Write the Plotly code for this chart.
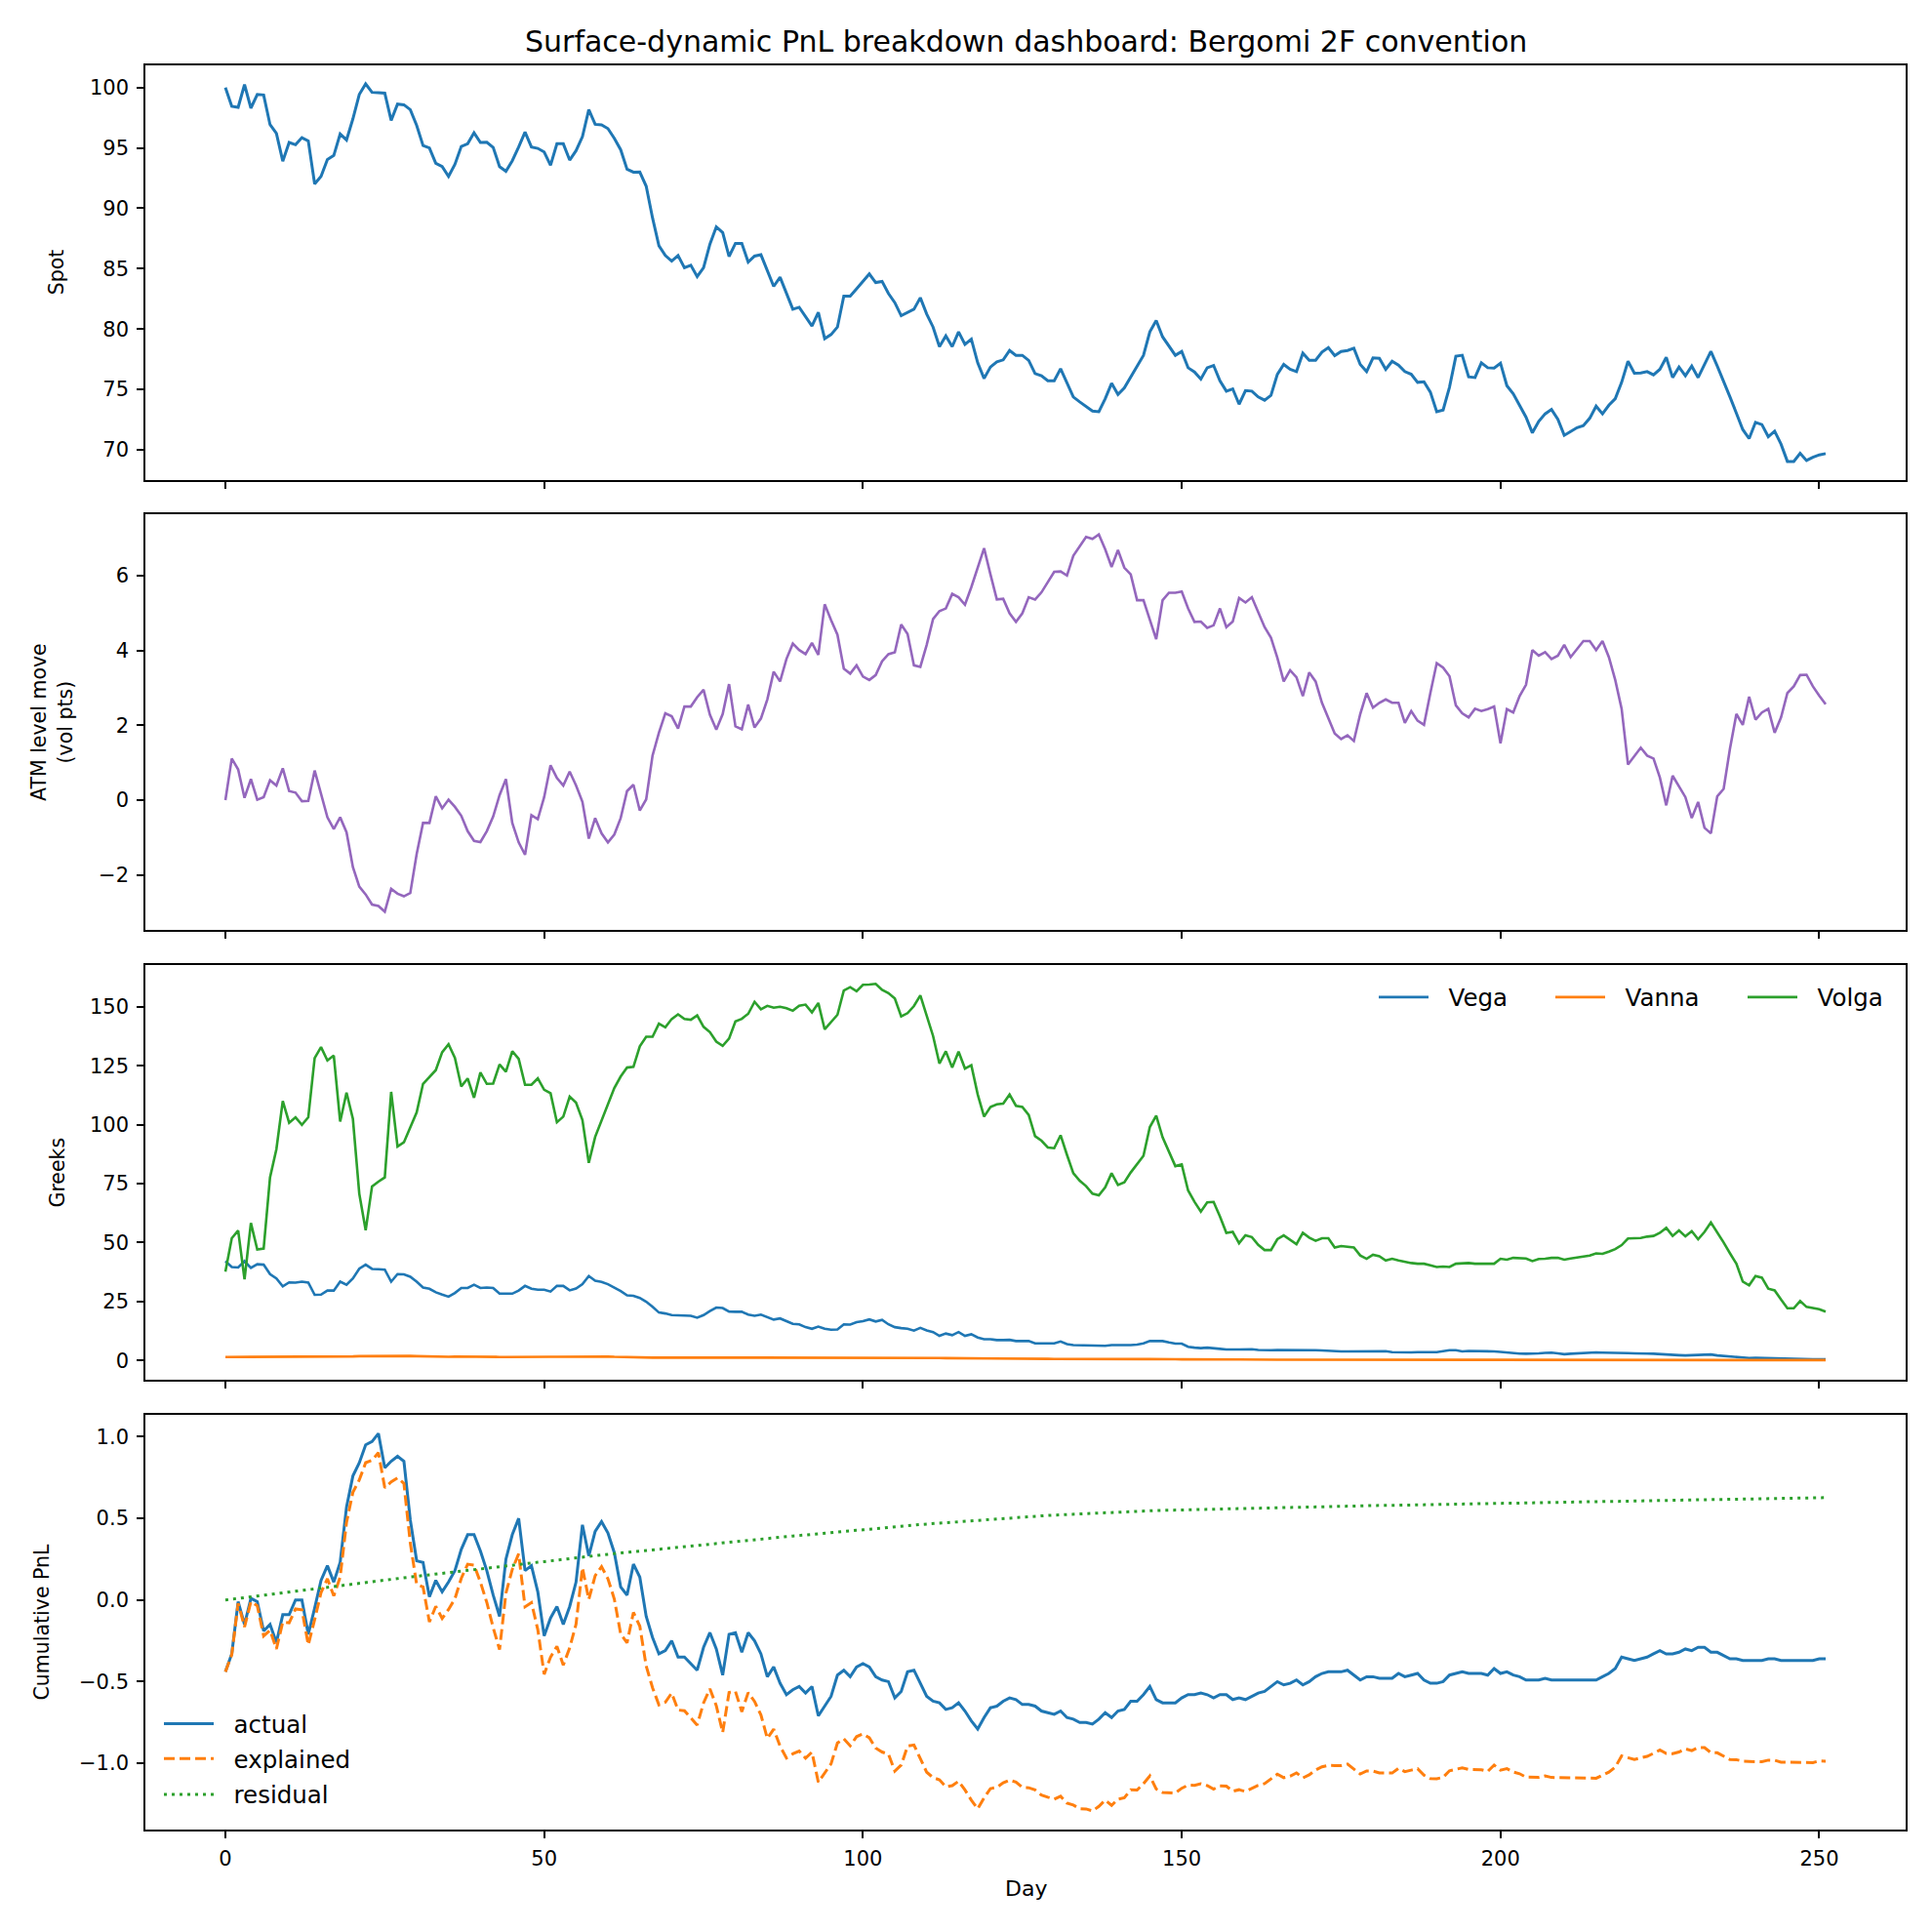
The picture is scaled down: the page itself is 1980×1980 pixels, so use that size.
import plotly.graph_objects as go

days = list(range(252))

spot = [100.0, 98.44, 98.36, 100.24, 98.3, 99.43, 99.38, 96.93, 96.2, 93.9,
        95.45, 95.26, 95.85, 95.58, 92.02, 92.64, 94.04, 94.37, 96.15, 95.66,
        97.41, 99.43, 100.3, 99.6, 99.57, 99.54, 97.28, 98.63, 98.57, 98.17,
        96.87, 95.2, 95.0, 93.72, 93.45, 92.64, 93.64, 95.12, 95.34, 96.25,
        95.45, 95.47, 95.04, 93.45, 93.07, 93.94, 95.07, 96.31, 95.07, 94.96,
        94.66, 93.56, 95.34, 95.34, 93.99, 94.77, 95.93, 98.17, 96.95, 96.9,
        96.6, 95.8, 94.85, 93.23, 92.99, 93.0, 91.83, 89.19, 86.9, 86.09,
        85.63, 86.09, 85.07, 85.28, 84.34, 85.07, 87.03, 88.46, 87.98, 86.01,
        87.09, 87.09, 85.55, 86.04, 86.15, 84.88, 83.53, 84.29, 83.0, 81.64,
        81.8, 80.97, 80.24, 81.37, 79.2, 79.54, 80.16, 82.72, 82.72, 83.32,
        83.94, 84.56, 83.85, 83.94, 82.94, 82.18, 81.1, 81.37, 81.64, 82.59,
        81.24, 80.16, 78.54, 79.43, 78.54, 79.76, 78.73, 79.16, 77.2, 75.9,
        76.85, 77.28, 77.44, 78.22, 77.82, 77.82, 77.39, 76.31, 76.12, 75.71,
        75.71, 76.71, 75.58, 74.37, 73.96, 73.61, 73.21, 73.15, 74.23, 75.5,
        74.58, 75.12, 76.04, 77.01, 77.82, 79.76, 80.7, 79.35, 78.54, 77.82,
        78.14, 76.79, 76.44, 75.85, 76.79, 76.98, 75.71, 74.85, 75.04, 73.77,
        74.9, 74.85, 74.37, 74.1, 74.5, 76.25, 77.06, 76.66, 76.47, 78.0,
        77.41, 77.41, 78.09, 78.46, 77.79, 78.14, 78.22, 78.41, 77.06, 76.47,
        77.6, 77.57, 76.66, 77.33, 77.01, 76.47, 76.25, 75.58, 75.63, 74.77,
        73.15, 73.29, 75.18, 77.74, 77.82, 76.04, 75.98, 77.2, 76.79, 76.77,
        77.17, 75.31, 74.64, 73.69, 72.7, 71.4, 72.35, 72.97, 73.34, 72.53,
        71.19, 71.51, 71.83, 72.0, 72.61, 73.61, 72.97, 73.69, 74.23, 75.58,
        77.33, 76.33, 76.36, 76.47, 76.2, 76.66, 77.65, 75.98, 76.85, 76.12,
        76.93, 75.98, 77.01, 78.14, 76.93, 75.71, 74.37, 73.02, 71.67, 70.92,
        72.27, 72.08, 71.08, 71.54, 70.46, 69.03, 69.03, 69.7, 69.11, 69.38,
        69.57, 69.68]

atm_move = [0.0, 1.11, 0.82, 0.06, 0.56, 0.01, 0.08, 0.53, 0.39, 0.85,
            0.24, 0.2, -0.03, -0.02, 0.79, 0.13, -0.46, -0.77, -0.46, -0.86,
            -1.79, -2.31, -2.52, -2.79, -2.83, -2.98, -2.37, -2.5, -2.57, -2.48,
            -1.44, -0.61, -0.61, 0.1, -0.22, 0.01, -0.18, -0.42, -0.83, -1.09,
            -1.12, -0.83, -0.44, 0.13, 0.56, -0.61, -1.13, -1.46, -0.4, -0.51,
            0.08, 0.93, 0.59, 0.39, 0.76, 0.39, -0.05, -1.03, -0.48, -0.89,
            -1.13, -0.92, -0.48, 0.24, 0.41, -0.28, 0.02, 1.19, 1.8, 2.32,
            2.24, 1.91, 2.5, 2.5, 2.75, 2.95, 2.28, 1.88, 2.3, 3.1,
            1.97, 1.89, 2.55, 1.94, 2.18, 2.69, 3.43, 3.17, 3.77, 4.18,
            4.01, 3.9, 4.2, 3.88, 5.23, 4.81, 4.42, 3.51, 3.38, 3.6,
            3.3, 3.21, 3.34, 3.71, 3.9, 3.95, 4.69, 4.44, 3.6, 3.56,
            4.15, 4.84, 5.05, 5.12, 5.51, 5.42, 5.22, 5.69, 6.21, 6.73,
            6.03, 5.36, 5.38, 4.99, 4.76, 4.99, 5.42, 5.36, 5.55, 5.83,
            6.1, 6.11, 6.0, 6.53, 6.77, 7.03, 6.98, 7.1, 6.7, 6.23,
            6.68, 6.21, 6.03, 5.34, 5.34, 4.82, 4.3, 5.34, 5.54, 5.54,
            5.57, 5.12, 4.76, 4.77, 4.6, 4.67, 5.12, 4.62, 4.77, 5.4,
            5.28, 5.42, 5.02, 4.62, 4.34, 3.8, 3.17, 3.47, 3.28, 2.78,
            3.41, 3.17, 2.6, 2.21, 1.78, 1.63, 1.73, 1.58, 2.3, 2.86,
            2.47, 2.6, 2.69, 2.6, 2.6, 2.06, 2.38, 2.12, 2.01, 2.86,
            3.66, 3.54, 3.31, 2.53, 2.32, 2.21, 2.44, 2.38, 2.43, 2.5,
            1.52, 2.43, 2.34, 2.78, 3.08, 4.01, 3.86, 3.95, 3.77, 3.86,
            4.15, 3.82, 4.03, 4.25, 4.25, 4.01, 4.25, 3.82, 3.21, 2.44,
            0.95, 1.17, 1.4, 1.19, 1.11, 0.6, -0.14, 0.65, 0.36, 0.08,
            -0.48, -0.05, -0.74, -0.89, 0.1, 0.3, 1.38, 2.3, 2.01, 2.76,
            2.15, 2.34, 2.44, 1.8, 2.21, 2.86, 3.04, 3.34, 3.35, 3.04,
            2.79, 2.56]

vega = [42.1, 39.6, 39.4, 42.1, 39.2, 40.8, 40.6, 36.6, 34.8, 31.4,
        33.1, 33.0, 33.4, 33.0, 27.8, 27.9, 29.6, 29.6, 33.4, 32.1,
        34.8, 38.9, 40.6, 38.8, 38.7, 38.5, 33.4, 36.6, 36.5, 35.5,
        33.4, 30.9, 30.4, 28.9, 27.9, 27.0, 28.6, 30.7, 30.7, 32.1,
        30.7, 30.9, 30.7, 28.3, 28.3, 28.3, 29.6, 31.6, 30.4, 30.0,
        30.0, 29.2, 31.6, 31.6, 29.7, 30.5, 32.3, 35.8, 33.8, 33.3,
        32.3, 30.9, 29.4, 27.6, 27.4, 26.5, 24.9, 22.7, 20.3, 19.9,
        19.2, 19.1, 18.9, 18.9, 18.1, 19.2, 20.9, 22.4, 22.2, 20.7,
        20.6, 20.6, 19.4, 18.9, 19.4, 18.3, 17.3, 17.8, 16.6, 15.5,
        15.3, 14.1, 13.4, 14.3, 13.4, 13.0, 13.1, 15.3, 15.2, 16.2,
        16.6, 17.4, 16.5, 17.2, 15.3, 14.1, 13.7, 13.4, 12.6, 13.8,
        12.7, 12.0, 10.4, 11.4, 10.7, 12.0, 10.4, 11.1, 9.7, 9.0,
        9.0, 8.6, 8.6, 8.7, 8.2, 8.2, 8.2, 7.2, 7.2, 7.2,
        7.2, 8.0, 6.9, 6.5, 6.4, 6.4, 6.1, 6.0, 6.2, 6.5,
        6.4, 6.4, 6.5, 6.7, 7.2, 8.2, 8.3, 8.2, 7.6, 7.1,
        7.1, 5.8, 5.4, 5.2, 5.4, 5.3, 4.9, 4.6, 4.6, 4.6,
        4.9, 4.7, 4.4, 4.2, 4.3, 4.4, 4.4, 4.4, 4.3, 4.6,
        4.4, 4.3, 4.2, 4.0, 3.8, 3.8, 3.8, 3.8, 3.9, 4.0,
        3.9, 3.8, 3.9, 3.5, 3.4, 3.4, 3.4, 3.5, 3.4, 3.4,
        3.5, 3.9, 4.3, 4.3, 3.8, 4.0, 4.0, 4.1, 4.0, 3.8,
        3.6, 3.3, 3.1, 2.9, 2.8, 2.8, 3.0, 3.2, 3.3, 3.0,
        2.6, 2.8, 3.0, 3.2, 3.3, 3.4, 3.3, 3.3, 3.4, 3.2,
        3.1, 3.0, 3.1, 2.9, 2.8, 2.6, 2.5, 2.4, 2.2, 2.1,
        2.2, 2.1, 2.3, 2.5, 2.1, 1.9, 1.6, 1.3, 1.0, 1.0,
        1.1, 1.0, 0.9, 0.8, 0.8, 0.6, 0.6, 0.6, 0.5, 0.5,
        0.5, 0.5]

vanna = [1.42, 1.42, 1.42, 1.43, 1.43, 1.43, 1.44, 1.44, 1.44, 1.45,
         1.45, 1.45, 1.46, 1.46, 1.45, 1.47, 1.50, 1.52, 1.55, 1.60,
         1.70, 1.80, 1.85, 1.90, 1.95, 1.97, 1.95, 1.93, 1.92, 1.90,
         1.80, 1.70, 1.62, 1.58, 1.55, 1.55, 1.60, 1.62, 1.62, 1.60,
         1.58, 1.55, 1.50, 1.45, 1.45, 1.50, 1.55, 1.60, 1.62, 1.60,
         1.55, 1.50, 1.50, 1.52, 1.55, 1.60, 1.70, 1.85, 1.80, 1.75,
         1.65, 1.50, 1.40, 1.35, 1.30, 1.25, 1.20, 1.18, 1.15, 1.13,
         1.12, 1.12, 1.12, 1.12, 1.12, 1.12, 1.12, 1.13, 1.13, 1.14,
         1.14, 1.15, 1.15, 1.15, 1.15, 1.15, 1.14, 1.14, 1.13, 1.12,
         1.12, 1.10, 1.10, 1.10, 1.08, 1.07, 1.07, 1.10, 1.15, 1.20,
         1.25, 1.28, 1.30, 1.28, 1.25, 1.22, 1.20, 1.20, 1.20, 1.15,
         1.10, 1.05, 1.00, 0.95, 0.95, 0.90, 0.88, 0.85, 0.82, 0.80,
         0.78, 0.75, 0.75, 0.73, 0.72, 0.72, 0.70, 0.68, 0.66, 0.64,
         0.62, 0.60, 0.56, 0.52, 0.48, 0.45, 0.42, 0.40, 0.40, 0.40,
         0.40, 0.42, 0.45, 0.50, 0.55, 0.60, 0.65, 0.60, 0.55, 0.50,
         0.45, 0.42, 0.38, 0.35, 0.34, 0.33, 0.32, 0.31, 0.30, 0.30,
         0.30, 0.30, 0.30, 0.30, 0.30, 0.30, 0.30, 0.30, 0.30, 0.30,
         0.30, 0.30, 0.30, 0.30, 0.29, 0.29, 0.29, 0.29, 0.29, 0.29,
         0.29, 0.29, 0.28, 0.28, 0.28, 0.28, 0.28, 0.28, 0.28, 0.28,
         0.28, 0.28, 0.28, 0.28, 0.28, 0.27, 0.27, 0.27, 0.27, 0.27,
         0.27, 0.27, 0.27, 0.27, 0.27, 0.27, 0.27, 0.27, 0.27, 0.27,
         0.26, 0.26, 0.26, 0.26, 0.26, 0.26, 0.26, 0.26, 0.26, 0.26,
         0.26, 0.26, 0.26, 0.26, 0.26, 0.25, 0.25, 0.25, 0.25, 0.25,
         0.25, 0.25, 0.25, 0.25, 0.25, 0.24, 0.24, 0.24, 0.24, 0.24,
         0.23, 0.22, 0.21, 0.20, 0.19, 0.18, 0.17, 0.16, 0.15, 0.14,
         0.13, 0.12]

volga = [37.6, 51.8, 55.1, 34.4, 58.3, 47.0, 47.4, 77.6, 89.6, 110.0,
         100.8, 103.1, 99.9, 103.1, 128.2, 132.9, 127.2, 129.3, 101.3, 113.6,
         102.4, 70.7, 55.2, 73.8, 75.8, 77.6, 113.9, 90.7, 92.5, 99.0,
         105.2, 117.3, 120.0, 123.1, 130.7, 134.1, 128.3, 116.2, 119.6, 111.4,
         122.1, 117.3, 117.4, 125.5, 122.4, 131.1, 127.9, 116.9, 116.9, 119.6,
         114.8, 113.3, 101.0, 103.4, 111.9, 109.3, 102.0, 83.8, 94.8, 101.7,
         109.3, 115.5, 120.4, 124.2, 124.5, 133.2, 137.3, 137.3, 142.8, 141.3,
         144.8, 146.8, 144.8, 144.5, 146.3, 141.5, 139.2, 135.2, 133.4, 136.5,
         143.8, 144.9, 147.0, 152.1, 148.9, 150.4, 149.6, 150.0, 149.4, 148.3,
         150.4, 150.9, 147.6, 151.6, 140.4, 143.4, 146.6, 156.9, 158.3, 156.6,
         159.3, 159.4, 159.7, 157.2, 155.8, 153.5, 145.9, 147.3, 150.3, 154.8,
         146.6, 137.6, 125.9, 131.1, 124.2, 131.0, 123.8, 125.2, 112.8, 103.4,
         107.5, 108.6, 108.9, 112.8, 108.0, 107.5, 104.1, 95.1, 93.2, 90.3,
         90.0, 95.5, 87.2, 79.4, 76.2, 73.9, 70.7, 70.0, 73.4, 79.4,
         74.4, 75.5, 79.7, 83.1, 86.8, 99.0, 103.8, 94.6, 88.2, 82.4,
         83.1, 72.1, 67.3, 63.1, 67.0, 67.2, 61.0, 54.1, 54.5, 49.7,
         53.1, 52.3, 49.0, 46.8, 46.8, 51.4, 53.0, 51.2, 49.3, 54.1,
         52.1, 50.7, 51.8, 51.8, 47.9, 48.5, 48.2, 47.9, 44.5, 43.1,
         44.8, 44.2, 42.4, 43.1, 42.4, 41.7, 41.3, 41.0, 41.0, 40.3,
         39.6, 39.8, 39.6, 41.0, 41.3, 41.3, 41.0, 40.9, 41.0, 41.0,
         43.1, 42.7, 43.5, 43.5, 43.2, 42.1, 43.0, 43.1, 43.5, 43.5,
         42.7, 43.2, 43.6, 43.9, 44.5, 45.4, 45.2, 46.1, 47.2, 48.9,
         51.7, 51.8, 51.9, 52.5, 52.8, 54.1, 56.2, 52.8, 55.1, 52.6,
         54.8, 51.4, 54.5, 58.5, 54.5, 50.0, 45.4, 41.0, 33.4, 31.8,
         35.8, 35.1, 30.4, 29.7, 25.8, 22.1, 22.1, 25.2, 22.7, 22.1,
         21.7, 20.7]

actual = [-0.44, -0.33, -0.01, -0.15, 0.01, -0.01, -0.19, -0.15, -0.26, -0.09,
          -0.09, 0.0, 0.0, -0.21, -0.05, 0.12, 0.21, 0.11, 0.23, 0.57,
          0.76, 0.84, 0.95, 0.97, 1.02, 0.81, 0.85, 0.88, 0.85, 0.49,
          0.24, 0.23, 0.02, 0.12, 0.05, 0.11, 0.18, 0.31, 0.40, 0.40,
          0.30, 0.18, 0.03, -0.10, 0.25, 0.40, 0.50, 0.18, 0.21, 0.05,
          -0.22, -0.11, -0.04, -0.15, -0.04, 0.11, 0.46, 0.27, 0.42, 0.48,
          0.41, 0.29, 0.08, 0.03, 0.22, 0.14, -0.10, -0.23, -0.33, -0.31,
          -0.25, -0.35, -0.35, -0.39, -0.43, -0.29, -0.20, -0.30, -0.46, -0.21,
          -0.20, -0.32, -0.20, -0.25, -0.33, -0.47, -0.41, -0.51, -0.58, -0.55,
          -0.53, -0.57, -0.53, -0.71, -0.65, -0.59, -0.46, -0.43, -0.47, -0.41,
          -0.39, -0.41, -0.47, -0.49, -0.50, -0.60, -0.56, -0.44, -0.43, -0.51,
          -0.59, -0.62, -0.63, -0.67, -0.66, -0.63, -0.68, -0.74, -0.79, -0.72,
          -0.66, -0.65, -0.62, -0.60, -0.61, -0.64, -0.64, -0.65, -0.68, -0.69,
          -0.70, -0.68, -0.72, -0.73, -0.75, -0.75, -0.76, -0.73, -0.69, -0.72,
          -0.68, -0.67, -0.62, -0.62, -0.58, -0.53, -0.61, -0.63, -0.63, -0.63,
          -0.60, -0.58, -0.58, -0.57, -0.58, -0.60, -0.58, -0.58, -0.61, -0.60,
          -0.61, -0.59, -0.57, -0.56, -0.53, -0.50, -0.52, -0.51, -0.49, -0.52,
          -0.50, -0.47, -0.45, -0.44, -0.44, -0.44, -0.43, -0.46, -0.49, -0.47,
          -0.47, -0.48, -0.48, -0.48, -0.45, -0.47, -0.46, -0.45, -0.49, -0.51,
          -0.51, -0.50, -0.46, -0.45, -0.44, -0.45, -0.45, -0.45, -0.46, -0.42,
          -0.45, -0.44, -0.46, -0.47, -0.49, -0.49, -0.49, -0.48, -0.49, -0.49,
          -0.49, -0.49, -0.49, -0.49, -0.49, -0.49, -0.47, -0.45, -0.42, -0.35,
          -0.36, -0.37, -0.36, -0.35, -0.33, -0.31, -0.33, -0.33, -0.32, -0.30,
          -0.31, -0.29, -0.29, -0.32, -0.32, -0.34, -0.36, -0.36, -0.37, -0.37,
          -0.37, -0.37, -0.36, -0.36, -0.37, -0.37, -0.37, -0.37, -0.37, -0.37,
          -0.36, -0.36]

residual = [0.0, 0.005, 0.01, 0.015, 0.02, 0.025, 0.03, 0.035, 0.04, 0.045,
            0.05, 0.055, 0.06, 0.065, 0.07, 0.075, 0.08, 0.085, 0.09, 0.095,
            0.10, 0.105, 0.109, 0.114, 0.118, 0.123, 0.127, 0.132, 0.136, 0.141,
            0.145, 0.15, 0.154, 0.159, 0.163, 0.168, 0.172, 0.177, 0.181, 0.186,
            0.19, 0.195, 0.199, 0.204, 0.208, 0.213, 0.217, 0.222, 0.226, 0.231,
            0.235, 0.24, 0.244, 0.249, 0.253, 0.258, 0.262, 0.267, 0.271, 0.276,
            0.28, 0.284, 0.288, 0.292, 0.296, 0.30, 0.304, 0.308, 0.312, 0.316,
            0.32, 0.324, 0.328, 0.332, 0.336, 0.34, 0.344, 0.348, 0.352, 0.356,
            0.36, 0.364, 0.367, 0.371, 0.374, 0.378, 0.381, 0.385, 0.388, 0.392,
            0.395, 0.399, 0.402, 0.406, 0.409, 0.413, 0.416, 0.42, 0.423, 0.427,
            0.43, 0.434, 0.437, 0.441, 0.444, 0.448, 0.451, 0.455, 0.458, 0.462,
            0.465, 0.468, 0.471, 0.474, 0.477, 0.48, 0.483, 0.486, 0.489, 0.492,
            0.495, 0.498, 0.50, 0.503, 0.505, 0.508, 0.51, 0.513, 0.515, 0.518,
            0.52, 0.522, 0.524, 0.526, 0.528, 0.53, 0.532, 0.534, 0.536, 0.538,
            0.54, 0.541, 0.543, 0.544, 0.545, 0.547, 0.548, 0.549, 0.55, 0.552,
            0.553, 0.554, 0.555, 0.556, 0.557, 0.558, 0.559, 0.56, 0.561, 0.562,
            0.563, 0.564, 0.565, 0.565, 0.566, 0.567, 0.568, 0.569, 0.569, 0.57,
            0.571, 0.572, 0.572, 0.573, 0.574, 0.574, 0.575, 0.576, 0.576, 0.577,
            0.578, 0.579, 0.579, 0.58, 0.581, 0.581, 0.582, 0.583, 0.583, 0.584,
            0.585, 0.586, 0.586, 0.587, 0.588, 0.588, 0.589, 0.59, 0.59, 0.591,
            0.592, 0.593, 0.593, 0.594, 0.595, 0.595, 0.596, 0.597, 0.597, 0.598,
            0.599, 0.6, 0.6, 0.601, 0.602, 0.602, 0.603, 0.604, 0.604, 0.605,
            0.606, 0.607, 0.607, 0.608, 0.609, 0.609, 0.61, 0.611, 0.611, 0.612,
            0.613, 0.614, 0.614, 0.615, 0.616, 0.616, 0.617, 0.618, 0.618, 0.619,
            0.62, 0.621, 0.621, 0.622, 0.623, 0.623, 0.624, 0.624, 0.625, 0.626,
            0.626, 0.627]

# explained part = actual minus unexplained residual
explained = [round(a - r, 4) for a, r in zip(actual, residual)]

x_ticks = [0, 50, 100, 150, 200, 250]
spot_ticks = [70, 75, 80, 85, 90, 95, 100]
atm_ticks = [-2, 0, 2, 4, 6]
atm_ticktext = ["\u22122", "0", "2", "4", "6"]
greek_ticks = [0, 25, 50, 75, 100, 125, 150]
pnl_ticks = [-1.0, -0.5, 0.0, 0.5, 1.0]
pnl_ticktext = ["\u22121.0", "\u22120.5", "0.0", "0.5", "1.0"]

BLUE, ORANGE, GREEN, PURPLE = "#1f77b4", "#ff7f0e", "#2ca02c", "#9467bd"
FONT = "DejaVu Sans"
W = H = 1980
L, R = 149, 27
PW = W - L - R
GAP = "\u00a0\u00a0"  # spacing between legend line sample and its label


def px_x(px):
    return (px - L) / PW


def px_y(py):
    return 1 - py / H


panels = [(66.7, 491.7), (527.3, 952.7), (989.0, 1414.0), (1450.0, 1875.0)]

fig = go.Figure()
fig.add_trace(go.Scatter(x=days, y=spot, mode="lines", line=dict(color=BLUE, width=3),
                         xaxis="x", yaxis="y", showlegend=False))
fig.add_trace(go.Scatter(x=days, y=atm_move, mode="lines", line=dict(color=PURPLE, width=2.6),
                         xaxis="x2", yaxis="y2", showlegend=False))
fig.add_trace(go.Scatter(x=days, y=vega, mode="lines", name=GAP + "Vega", line=dict(color=BLUE, width=2.6),
                         xaxis="x3", yaxis="y3", legend="legend"))
fig.add_trace(go.Scatter(x=days, y=vanna, mode="lines", name=GAP + "Vanna", line=dict(color=ORANGE, width=2.6),
                         xaxis="x3", yaxis="y3", legend="legend2"))
fig.add_trace(go.Scatter(x=days, y=volga, mode="lines", name=GAP + "Volga", line=dict(color=GREEN, width=2.6),
                         xaxis="x3", yaxis="y3", legend="legend3"))
fig.add_trace(go.Scatter(x=days, y=actual, mode="lines", name=GAP + "actual", line=dict(color=BLUE, width=3),
                         xaxis="x4", yaxis="y4", legend="legend4"))
fig.add_trace(go.Scatter(x=days, y=explained, mode="lines", name=GAP + "explained",
                         line=dict(color=ORANGE, width=3, dash="11px,5px"),
                         xaxis="x4", yaxis="y4", legend="legend5"))
fig.add_trace(go.Scatter(x=days, y=residual, mode="lines", name=GAP + "residual",
                         line=dict(color=GREEN, width=3, dash="3px,5px"),
                         xaxis="x4", yaxis="y4", legend="legend6"))

axis_common = dict(showgrid=False, zeroline=False, showline=True, mirror=True,
                   linecolor="black", linewidth=1.6, ticks="outside", ticklen=7,
                   tickwidth=1.6, tickcolor="black",
                   tickfont=dict(family=FONT, size=21, color="black"))

yranges = [[67.51, 101.86], [-3.46, 7.63], [-8.2, 167.7], [-1.406, 1.134]]
ytickvals = [spot_ticks, atm_ticks, greek_ticks, pnl_ticks]
yticktext = [[str(v) for v in spot_ticks], atm_ticktext, [str(v) for v in greek_ticks], pnl_ticktext]

layout = dict(width=W, height=H, margin=dict(l=L, r=R, t=0, b=0, autoexpand=False),
              paper_bgcolor="white", plot_bgcolor="white",
              font=dict(family=FONT, size=20, color="black"))

for i in range(4):
    sfx = "" if i == 0 else str(i + 1)
    top, bot = panels[i]
    layout["xaxis" + sfx] = dict(axis_common, domain=[0, 1], anchor="y" + sfx,
                                 range=[-12.55, 263.55], tickvals=x_ticks,
                                 ticktext=[str(v) for v in x_ticks],
                                 showticklabels=(i == 3), ticklabelstandoff=3)
    layout["yaxis" + sfx] = dict(axis_common, domain=[px_y(bot), px_y(top)], anchor="x" + sfx,
                                 range=yranges[i], tickvals=ytickvals[i], ticktext=yticktext[i],
                                 ticklabelstandoff=4)

leg_font = dict(family=FONT, size=24.5, color="black")


def leg(xpx, ypx):
    return dict(x=px_x(xpx), y=px_y(ypx), xanchor="left", yanchor="middle",
                bgcolor="rgba(0,0,0,0)", borderwidth=0, font=leg_font, itemwidth=51)


layout["legend"] = leg(1408, 1022)
layout["legend2"] = leg(1589, 1022)
layout["legend3"] = leg(1786, 1022)
layout["legend4"] = leg(163, 1766.7)
layout["legend5"] = leg(163, 1802.3)
layout["legend6"] = leg(163, 1839)

annotations = [
    dict(text="Surface-dynamic PnL breakdown dashboard: Bergomi 2F convention",
         x=0.5, y=px_y(42), xref="paper", yref="paper", xanchor="center", yanchor="middle",
         showarrow=False, font=dict(family=FONT, size=30, color="black")),
    dict(text="Day", x=0.5, y=px_y(1935), xref="paper", yref="paper", xanchor="center",
         yanchor="middle", showarrow=False, font=dict(family=FONT, size=22, color="black")),
    dict(text="Spot", x=px_x(58), y=px_y((panels[0][0] + panels[0][1]) / 2), xref="paper",
         yref="paper", textangle=-90, showarrow=False, xanchor="center", yanchor="middle",
         font=dict(family=FONT, size=20.5, color="black")),
    dict(text="ATM level move<br>(vol pts)", x=px_x(54), y=px_y((panels[1][0] + panels[1][1]) / 2),
         xref="paper", yref="paper", textangle=-90, showarrow=False, xanchor="center",
         yanchor="middle", font=dict(family=FONT, size=20.5, color="black")),
    dict(text="Greeks", x=px_x(58), y=px_y((panels[2][0] + panels[2][1]) / 2), xref="paper",
         yref="paper", textangle=-90, showarrow=False, xanchor="center", yanchor="middle",
         font=dict(family=FONT, size=20.5, color="black")),
    dict(text="Cumulative PnL", x=px_x(42), y=px_y((panels[3][0] + panels[3][1]) / 2), xref="paper",
         yref="paper", textangle=-90, showarrow=False, xanchor="center", yanchor="middle",
         font=dict(family=FONT, size=20.5, color="black")),
]
layout["annotations"] = annotations

fig.update_layout(**layout)
fig.write_html("out.html")
